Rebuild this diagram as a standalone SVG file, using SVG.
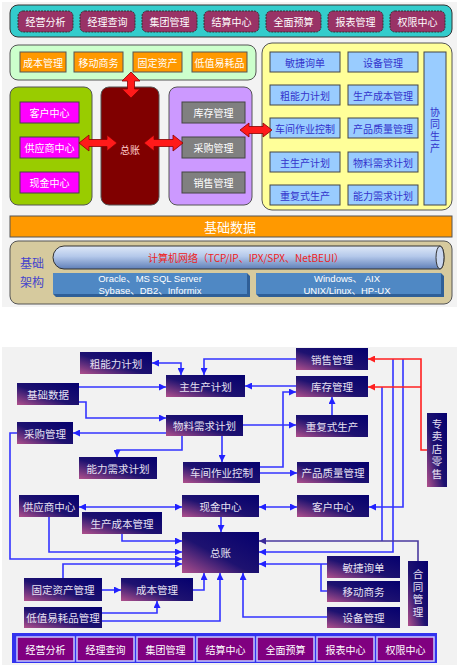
<svg xmlns="http://www.w3.org/2000/svg" width="459" height="671" viewBox="0 0 459 671">
<defs>
<style>
text{font-family:"Noto Sans CJK SC","Liberation Sans",sans-serif;text-anchor:middle;dominant-baseline:central}
.lat{font-family:"Liberation Sans","Noto Sans CJK SC",sans-serif}
.vt{writing-mode:vertical-rl;letter-spacing:2px}
.mb{fill:#993366;stroke:#333;stroke-width:1;stroke-dasharray:2 1}
.wt{fill:#fff;font-size:10px}
.or{fill:#ff9900;stroke:#555;stroke-width:1}
.bl{fill:#99ccff;stroke:#444;stroke-width:1}
.bt{fill:#3333cc;font-size:10px}
.mg{fill:#ff00ff;stroke:#444;stroke-width:1}
.gr{fill:#808080;stroke:#444;stroke-width:1}
.rar{fill:#ff1a1a;stroke:#880000;stroke-width:0.8}
.nd{fill:url(#ng)}
.nt{fill:#e6e0f2;font-size:10.5px}
.cn{fill:none;stroke:#3333ff;stroke-width:1.6}
.bb{fill:#800080;stroke:#c8c8ff;stroke-width:1.5}
</style>
<linearGradient id="ng" x1="1" y1="0" x2="0" y2="1">
<stop offset="0" stop-color="#05006e"/>
<stop offset="0.55" stop-color="#1e1270"/>
<stop offset="1" stop-color="#b0508c"/>
</linearGradient>
<linearGradient id="pipe" x1="0" y1="0" x2="0" y2="1">
<stop offset="0" stop-color="#dfe9f8"/>
<stop offset="0.45" stop-color="#b4c8ea"/>
<stop offset="1" stop-color="#5f7fb8"/>
</linearGradient>
<marker id="ab" viewBox="0 0 7 7" markerWidth="7" markerHeight="7" refX="7" refY="3.5" markerUnits="userSpaceOnUse" orient="auto-start-reverse"><path d="M0,0 L7,3.5 L0,7 z" fill="#2222ff"/></marker>
<marker id="ap" viewBox="0 0 7 7" markerWidth="7" markerHeight="7" refX="7" refY="3.5" markerUnits="userSpaceOnUse" orient="auto-start-reverse"><path d="M0,0 L7,3.5 L0,7 z" fill="#3a2a9a"/></marker>
<marker id="ar" viewBox="0 0 7 7" markerWidth="7" markerHeight="7" refX="7" refY="3.5" markerUnits="userSpaceOnUse" orient="auto-start-reverse"><path d="M0,0 L7,3.5 L0,7 z" fill="#ff2020"/></marker>
</defs>
<rect x="0" y="0" width="459" height="671" fill="#ffffff"/>
<rect x="2" y="2" width="455" height="305" fill="#f3f3f3"/>
<rect x="2" y="347" width="455" height="318" fill="#f2f2f2"/>

<!-- ===== Top diagram ===== -->
<g id="top-modules">
<rect x="10" y="5" width="442" height="32" rx="8" fill="#33cccc" stroke="#333"/>
<rect class="mb" x="18" y="11" width="55" height="21" rx="5"/><text class="wt" x="45.5" y="21.5">经营分析</text>
<rect class="mb" x="80" y="11" width="55" height="21" rx="5"/><text class="wt" x="107.5" y="21.5">经理查询</text>
<rect class="mb" x="142" y="11" width="55" height="21" rx="5"/><text class="wt" x="169.5" y="21.5">集团管理</text>
<rect class="mb" x="204" y="11" width="55" height="21" rx="5"/><text class="wt" x="231.5" y="21.5">结算中心</text>
<rect class="mb" x="266" y="11" width="55" height="21" rx="5"/><text class="wt" x="293.5" y="21.5">全面预算</text>
<rect class="mb" x="328" y="11" width="55" height="21" rx="5"/><text class="wt" x="355.5" y="21.5">报表管理</text>
<rect class="mb" x="390" y="11" width="55" height="21" rx="5"/><text class="wt" x="417.5" y="21.5">权限中心</text>
</g>

<g id="asset-group">
<rect x="10" y="45" width="246" height="35" rx="8" fill="#ccffcc" stroke="#555"/>
<rect class="or" x="20" y="52" width="46" height="20"/><text class="wt" x="43" y="62">成本管理</text>
<rect class="or" x="74" y="52" width="49" height="20"/><text class="wt" x="98.5" y="62">移动商务</text>
<rect class="or" x="133" y="52" width="49" height="20"/><text class="wt" x="157.5" y="62">固定资产</text>
<rect class="or" x="192" y="52" width="55" height="20"/><text class="wt" x="219.5" y="62">低值易耗品</text>
</g>

<g id="production-group">
<rect x="262" y="43" width="190" height="167" rx="10" fill="#ffff99" stroke="#555"/>
<rect class="bl" x="270" y="52" width="70" height="20"/><text class="bt" x="305" y="62">敏捷询单</text>
<rect class="bl" x="270" y="85" width="70" height="20"/><text class="bt" x="305" y="95">粗能力计划</text>
<rect class="bl" x="270" y="118" width="70" height="20"/><text class="bt" x="305" y="128">车间作业控制</text>
<rect class="bl" x="270" y="152" width="70" height="20"/><text class="bt" x="305" y="162">主生产计划</text>
<rect class="bl" x="270" y="185" width="70" height="20"/><text class="bt" x="305" y="195">重复式生产</text>
<rect class="bl" x="348" y="52" width="70" height="20"/><text class="bt" x="383" y="62">设备管理</text>
<rect class="bl" x="348" y="85" width="70" height="20"/><text class="bt" x="383" y="95">生产成本管理</text>
<rect class="bl" x="348" y="118" width="70" height="20"/><text class="bt" x="383" y="128">产品质量管理</text>
<rect class="bl" x="348" y="152" width="70" height="20"/><text class="bt" x="383" y="162">物料需求计划</text>
<rect class="bl" x="348" y="185" width="70" height="20"/><text class="bt" x="383" y="195">能力需求计划</text>
<rect class="bl" x="424" y="52" width="22" height="153"/>
<text class="bt vt" x="435" y="131">协同生产</text>
</g>

<g id="customer-group">
<rect x="10" y="87" width="82" height="118" rx="8" fill="#99cc00" stroke="#555"/>
<rect class="mg" x="20" y="102" width="59" height="21"/><text class="wt" x="49.5" y="112.5">客户中心</text>
<rect class="mg" x="20" y="137" width="59" height="21"/><text class="wt" x="49.5" y="147.5">供应商中心</text>
<rect class="mg" x="20" y="172" width="59" height="21"/><text class="wt" x="49.5" y="182.5">现金中心</text>
</g>

<g id="ledger">
<rect x="101" y="87" width="58" height="118" rx="8" fill="#800000" stroke="#555"/>
<text x="130" y="149" fill="#ffcccc" font-size="10">总账</text>
</g>

<g id="logistics-group">
<rect x="169" y="87" width="83" height="118" rx="8" fill="#cc99ff" stroke="#555"/>
<rect class="gr" x="182" y="102" width="63" height="21"/><text class="wt" x="213.5" y="112.5">库存管理</text>
<rect class="gr" x="182" y="137" width="63" height="21"/><text class="wt" x="213.5" y="147.5">采购管理</text>
<rect class="gr" x="182" y="172" width="63" height="21"/><text class="wt" x="213.5" y="182.5">销售管理</text>
</g>

<g id="top-connectors">
<path class="rar" d="M131 72 L140 81 L134.5 81 L134.5 89 L140 89 L131 98 L122 89 L127.5 89 L127.5 81 L122 81 Z"/>
<path class="rar" d="M79 143 L89 135 L89 139.5 L107 139.5 L107 135 L117 143 L107 151 L107 146.5 L89 146.5 L89 151 Z"/>
<path class="rar" d="M144 143 L154 135 L154 139.5 L173 139.5 L173 135 L183 143 L173 151 L173 146.5 L154 146.5 L154 151 Z"/>
<path class="rar" d="M240 130 L249 123 L249 126.5 L263 126.5 L263 123 L272 130 L263 137 L263 133.5 L249 133.5 L249 137 Z"/>
</g>

<g id="base-data">
<rect x="10" y="216" width="442" height="21" fill="#ff9900" stroke="#555"/>
<text x="230" y="226.5" fill="#fff" font-size="13">基础数据</text>
</g>

<g id="infrastructure">
<rect x="10" y="241" width="442" height="63" rx="8" fill="#d6ca9e" stroke="#555"/>
<text x="32" y="262" fill="#4444cc" font-size="12">基础</text>
<text x="32" y="281" fill="#4444cc" font-size="12">架构</text>
<path d="M64 246 H440 A4 11.5 0 0 1 440 269 H64 A11 11.5 0 0 1 64 246 Z" fill="url(#pipe)" stroke="#333"/>
<ellipse cx="440" cy="257.5" rx="4" ry="11.5" fill="#c8d6ef" stroke="#333"/>
<text x="246" y="257.5" fill="#ee2222" font-size="10">计算机网络（TCP/IP、IPX/SPX、NetBEUI）</text>
<polygon points="247,273 250,276 250,297 56,297 53,294 247,294" fill="#2f5f97"/>
<rect x="53" y="273" width="194" height="21" fill="#4f88c4"/>
<text class="lat" x="150" y="278" fill="#fff" font-size="9.5">Oracle、MS SQL Server</text>
<text class="lat" x="150" y="290" fill="#fff" font-size="9.5">Sybase、DB2、Informix</text>
<polygon points="441,273 444,276 444,297 259,297 256,294 441,294" fill="#2f5f97"/>
<rect x="256" y="273" width="185" height="21" fill="#4f88c4"/>
<text class="lat" x="347" y="278" fill="#fff" font-size="9.5">Windows、 AIX</text>
<text class="lat" x="347" y="290" fill="#fff" font-size="9.5">UNIX/Linux、HP-UX</text>
</g>

<!-- ===== Bottom diagram ===== -->
<g id="connectors">
<path class="cn" d="M152 363 H181 V375" marker-start="url(#ab)" marker-end="url(#ab)"/>
<path class="cn" d="M296 359 H204 V375" marker-end="url(#ab)"/>
<path class="cn" d="M79 387 H166" marker-end="url(#ab)"/>
<path class="cn" d="M79 402 H86 V418 H166" marker-end="url(#ab)"/>
<path class="cn" d="M166 433 H73" marker-end="url(#ab)"/>
<path class="cn" d="M182 436 V450 H117 V457" marker-end="url(#ab)"/>
<path class="cn" d="M222 436 V462" marker-end="url(#ab)"/>
<path class="cn" d="M243 425 H296" marker-end="url(#ab)"/>
<path class="cn" d="M260 467 H283 V392 H296" marker-end="url(#ab)"/>
<path class="cn" d="M260 473 H297" marker-end="url(#ab)"/>
<path class="cn" d="M332 415 V397" marker-end="url(#ab)"/>
<path class="cn" d="M296 386 H245" marker-end="url(#ab)"/>
<path class="cn" d="M403 359 V507 H369" marker-end="url(#ab)"/>
<path class="cn" d="M393 359 V552 H259" marker-end="url(#ab)"/>
<path class="cn" d="M382 387 V541"/>
<path fill="none" stroke="#4a3a9e" stroke-width="1.6" d="M418 561 V541 H259" marker-end="url(#ap)"/>
<path class="cn" d="M327 564 H259" marker-end="url(#ab)"/>
<path class="cn" d="M327 591 H321 V564"/>
<path class="cn" d="M327 617 H243 V573" marker-end="url(#ab)"/>
<path class="cn" d="M193 590 H204 V573" marker-end="url(#ab)"/>
<path class="cn" d="M102 621 H220 V573" marker-end="url(#ab)"/>
<path class="cn" d="M102 613 H157 V601" marker-end="url(#ab)"/>
<path class="cn" d="M102 590 H121" marker-end="url(#ab)"/>
<path class="cn" d="M63 578 V564 H182" marker-end="url(#ab)"/>
<path class="cn" d="M17 433 H10 V559 H182" marker-end="url(#ab)"/>
<path class="cn" d="M49 517 V552 H182" marker-end="url(#ab)"/>
<path class="cn" d="M122 534 V541 H182" marker-end="url(#ab)"/>
<path class="cn" d="M79 507 H182" marker-start="url(#ab)" marker-end="url(#ab)"/>
<path class="cn" d="M259 507 H297" marker-start="url(#ab)" marker-end="url(#ab)"/>
<path class="cn" d="M221 517 V532" marker-end="url(#ab)"/>
<path fill="none" stroke="#ff2020" stroke-width="1.6" d="M427 450 H421 V359 H368" marker-end="url(#ar)"/>
<path fill="none" stroke="#ff2020" stroke-width="1.6" d="M421 387 H368" marker-end="url(#ar)"/>
</g>

<g id="n-rough-capacity"><rect class="nd" x="80" y="352" width="72" height="22"/><text class="nt" x="116" y="363">粗能力计划</text></g>
<g id="n-base-data"><rect class="nd" x="17" y="383" width="62" height="22"/><text class="nt" x="48" y="394">基础数据</text></g>
<g id="n-master-plan"><rect class="nd" x="166" y="375" width="79" height="22"/><text class="nt" x="205.5" y="386">主生产计划</text></g>
<g id="n-purchase"><rect class="nd" x="17" y="422" width="56" height="22"/><text class="nt" x="45" y="433">采购管理</text></g>
<g id="n-mrp"><rect class="nd" x="166" y="415" width="77" height="21"/><text class="nt" x="204.5" y="425.5">物料需求计划</text></g>
<g id="n-crp"><rect class="nd" x="79" y="457" width="78" height="22"/><text class="nt" x="118" y="468">能力需求计划</text></g>
<g id="n-shopfloor"><rect class="nd" x="183" y="462" width="77" height="21"/><text class="nt" x="221.5" y="472.5">车间作业控制</text></g>
<g id="n-cash"><rect class="nd" x="182" y="495" width="77" height="22"/><text class="nt" x="220.5" y="506">现金中心</text></g>
<g id="n-supplier"><rect class="nd" x="19" y="495" width="60" height="22"/><text class="nt" x="49" y="506">供应商中心</text></g>
<g id="n-prod-cost"><rect class="nd" x="82" y="512" width="80" height="22"/><text class="nt" x="122" y="523">生产成本管理</text></g>
<g id="n-ledger"><rect class="nd" x="182" y="532" width="77" height="41"/><text class="nt" x="220.5" y="552.5" font-size="14">总账</text></g>
<g id="n-customer"><rect class="nd" x="297" y="495" width="72" height="22"/><text class="nt" x="333" y="506">客户中心</text></g>
<g id="n-quality"><rect class="nd" x="297" y="462" width="72" height="21"/><text class="nt" x="333" y="472.5">产品质量管理</text></g>
<g id="n-repetitive"><rect class="nd" x="296" y="415" width="72" height="22"/><text class="nt" x="332" y="426">重复式生产</text></g>
<g id="n-sales"><rect class="nd" x="296" y="348" width="72" height="22"/><text class="nt" x="332" y="359">销售管理</text></g>
<g id="n-inventory"><rect class="nd" x="296" y="376" width="72" height="21"/><text class="nt" x="332" y="386.5">库存管理</text></g>
<g id="n-retail"><rect class="nd" x="427" y="413" width="20" height="74"/>
<text class="nt vt" x="437" y="450">专卖店零售</text></g>
<g id="n-quick-order"><rect class="nd" x="327" y="556" width="73" height="22"/><text class="nt" x="363.5" y="567">敏捷询单</text></g>
<g id="n-mobile"><rect class="nd" x="327" y="581" width="73" height="21"/><text class="nt" x="363.5" y="591.5">移动商务</text></g>
<g id="n-equipment"><rect class="nd" x="327" y="607" width="73" height="21"/><text class="nt" x="363.5" y="617.5">设备管理</text></g>
<g id="n-contract"><rect class="nd" x="408" y="561" width="20" height="65"/>
<text class="nt vt" x="418" y="594">合同管理</text></g>
<g id="n-fixed-asset"><rect class="nd" x="24" y="578" width="78" height="23"/><text class="nt" x="63" y="589.5">固定资产管理</text></g>
<g id="n-cost"><rect class="nd" x="121" y="578" width="72" height="23"/><text class="nt" x="157" y="589.5">成本管理</text></g>
<g id="n-consumables"><rect class="nd" x="24" y="607" width="78" height="21"/><text class="nt" x="63" y="617.5">低值易耗品管理</text></g>

<g id="bottom-bar">
<rect x="12" y="633" width="425" height="30" fill="#3333ee"/>
<rect class="bb" x="17" y="637" width="57" height="24"/><text class="wt" x="45.5" y="649">经营分析</text>
<rect class="bb" x="77" y="637" width="57" height="24"/><text class="wt" x="105.5" y="649">经理查询</text>
<rect class="bb" x="137" y="637" width="57" height="24"/><text class="wt" x="165.5" y="649">集团管理</text>
<rect class="bb" x="197" y="637" width="57" height="24"/><text class="wt" x="225.5" y="649">结算中心</text>
<rect class="bb" x="257" y="637" width="57" height="24"/><text class="wt" x="285.5" y="649">全面预算</text>
<rect class="bb" x="317" y="637" width="57" height="24"/><text class="wt" x="345.5" y="649">报表中心</text>
<rect class="bb" x="377" y="637" width="57" height="24"/><text class="wt" x="405.5" y="649">权限中心</text>
</g>
</svg>
